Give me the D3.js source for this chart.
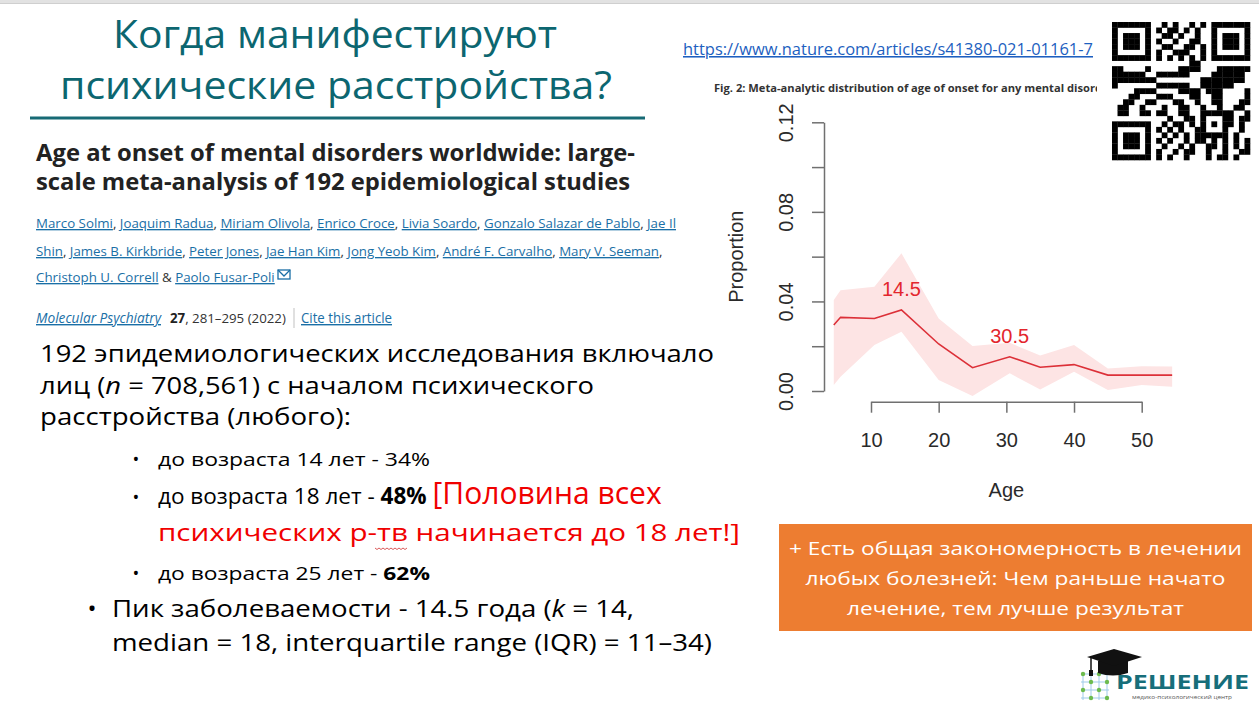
<!DOCTYPE html>
<html>
<head>
<meta charset="utf-8">
<script src="https://cdn.jsdelivr.net/npm/d3@7"></script>
<style>
  html, body { margin: 0; padding: 0; background: #fff; }
  svg { display: block; }
</style>
</head>
<body>
<svg id="slide" width="1259" height="709"></svg>
<script>
// age-of-onset curve
const ages = [4.5, 5.5, 10.5, 14.5, 20, 25, 30.5, 35, 40, 45, 50, 54.5];
const proportion = [0.0295, 0.0329, 0.0324, 0.0362, 0.0210, 0.0104, 0.0153, 0.0106, 0.0118, 0.0071, 0.0071, 0.0071];
const upper = [0.0406, 0.0450, 0.0466, 0.0615, 0.0324, 0.0201, 0.0215, 0.0158, 0.0205, 0.0101, 0.0110, 0.0109];
const lower = [0.0027, 0.0064, 0.0205, 0.0265, 0.0049, -0.0022, 0.0079, 0.0007, 0.0086, 0.0004, 0.0027, 0.0019];
const peakAges = [14.5, 30.5];
const peakValues = [0.0362, 0.0153];
const xTicks = [10, 20, 30, 40, 50];
const yTicks = [0, 0.02, 0.04, 0.06, 0.08, 0.10, 0.12];
const yLabelled = [0, 0.04, 0.08, 0.12];

const svg = d3.select("#slide");
const FONT = "Open Sans";

// small helper: text made of styled parts, fitted to a width
// textLength stretch by default, mixed runs with o.scale get their font size scaled instead
function txt(x, y, parts, o) {
    const t = svg.append("text")
        .attr("x", x).attr("y", y)
        .attr("font-family", o.font || FONT)
        .attr("font-size", o.size)
        .attr("fill", o.fill || "#000");
    if (o.anchor) t.attr("text-anchor", o.anchor);
    if (o.weight) t.attr("font-weight", o.weight);
    const spans = [];
    parts.forEach((p) => {
        if (typeof p === "string") p = { t: p };
        const s = t.append("tspan").text(p.t);
        if (p.fill) s.attr("fill", p.fill);
        if (p.weight) s.attr("font-weight", p.weight);
        if (p.italic) s.attr("font-style", "italic");
        if (p.size) s.attr("font-size", p.size);
        if (p.u) s.style("text-decoration", "underline");
        spans.push([s, p.size]);
    });
    if (o.width) {
        if (!o.scale) {
            t.attr("textLength", o.width).attr("lengthAdjust", "spacingAndGlyphs");
        } else {
            const k = o.width / t.node().getComputedTextLength();
            t.attr("font-size", o.size * k);
            spans.forEach(([s, sz]) => { if (sz) s.attr("font-size", sz * k); });
        }
    }
    return t;
}

svg.append("rect").attr("width", 1259).attr("height", 709).attr("fill", "#fff");
svg.append("rect").attr("width", 1259).attr("height", 3).attr("fill", "#e2e2e2");
svg.append("line").attr("x1", 0).attr("x2", 1259).attr("y1", 3.5).attr("y2", 3.5)
    .attr("stroke", "#cfcfcf").attr("stroke-width", 1);

// slide title
const teal = "#0c6670";
txt(335, 48, ["Когда манифестируют"], { size: 39, fill: teal, anchor: "middle", width: 444 });
txt(336, 99, ["психические расстройства?"], { size: 39, fill: teal, anchor: "middle", width: 552 });
svg.append("line").attr("x1", 30).attr("x2", 645).attr("y1", 118).attr("y2", 118)
    .attr("stroke", "#176a75").attr("stroke-width", 3);

// article header
txt(36, 161, ["Age at onset of mental disorders worldwide: large-"], { size: 23, weight: 700, fill: "#222", width: 599 });
txt(36, 190, ["scale meta-analysis of 192 epidemiological studies"], { size: 23, weight: 700, fill: "#222", width: 594 });

const link = "#1a6fa6";
function authors(names, sep) {
    const parts = [];
    names.forEach((n, i) => {
        if (n) parts.push({ t: n, fill: link, u: true });
        if (i < names.length - 1) parts.push({ t: sep[i] || ", ", fill: "#333" });
    });
    return parts;
}
txt(36, 228, authors(["Marco Solmi", "Joaquim Radua", "Miriam Olivola", "Enrico Croce", "Livia Soardo", "Gonzalo Salazar de Pablo", "Jae Il"], []),
    { size: 14, width: 641, scale: true });
txt(36, 256, authors(["Shin", "James B. Kirkbride", "Peter Jones", "Jae Han Kim", "Jong Yeob Kim", "André F. Carvalho", "Mary V. Seeman", ""], []),
    { size: 14, width: 627, scale: true });
txt(36, 282, authors(["Christoph U. Correll", "Paolo Fusar-Poli"], [" & "]), { size: 14, width: 239, scale: true });
// envelope icon
svg.append("rect").attr("x", 278).attr("y", 270).attr("width", 12).attr("height", 9)
    .attr("fill", "none").attr("stroke", link).attr("stroke-width", 1.3);
svg.append("path").attr("d", "M278,270 L284,276 L290,270").attr("fill", "none")
    .attr("stroke", link).attr("stroke-width", 1.3);

txt(36, 323, [{ t: "Molecular Psychiatry", fill: link, italic: true, u: true }], { size: 14, width: 125 });
txt(170, 323, [{ t: "27", weight: 700, fill: "#222" }, { t: ", 281–295 (2022)", fill: "#333" }], { size: 14, width: 116, scale: true });
svg.append("line").attr("x1", 294).attr("x2", 294).attr("y1", 308).attr("y2", 328)
    .attr("stroke", "#ccc").attr("stroke-width", 1.2);
txt(301, 323, [{ t: "Cite this article", fill: link, u: true }], { size: 14, width: 91 });

// body text
txt(40, 362, ["192 эпидемиологических исследования включало"], { size: 23, width: 674 });
txt(40, 394, ["лиц (", { t: "n", italic: true }, " = 708,561) с началом психического"], { size: 23, width: 554 });
txt(40, 425, ["расстройства (любого):"], { size: 23, width: 311 });

const red = "#f00000";
txt(136, 466, ["•"], { size: 18, anchor: "middle" });
txt(158, 466, ["до возраста 14 лет - 34%"], { size: 18, width: 272 });
txt(136, 504, ["•"], { size: 18, anchor: "middle" });
txt(158, 504, ["до возраста 18 лет - ", { t: "48%", weight: 700 }, " ", { t: "[Половина всех", fill: red, size: 24 }],
    { size: 18, width: 504, scale: true });
txt(158, 541, [{ t: "психических р-тв начинается до 18 лет!]", fill: red }], { size: 24, width: 582 });
// spell-check squiggle under "р-тв"
svg.append("path")
    .attr("d", d3.range(0, 17).map((i) => (i ? "L" : "M") + (375 + i * 2) + "," + (548 + (i % 2 ? 1.5 : 0))).join(""))
    .attr("fill", "none").attr("stroke", "#d03030").attr("stroke-width", 0.8);
txt(136, 580, ["•"], { size: 18, anchor: "middle" });
txt(158, 580, ["до возраста 25 лет - ", { t: "62%", weight: 700 }], { size: 18, width: 272 });

txt(92, 617, ["•"], { size: 24, anchor: "middle" });
txt(112, 617, ["Пик заболеваемости - 14.5 года (", { t: "k", italic: true }, " = 14,"], { size: 23, width: 522 });
txt(112, 651, ["median = 18, interquartile range (IQR) = 11–34)"], { size: 23, width: 600 });

// link + figure caption
txt(683, 55, [{ t: "https://www.nature.com/articles/s41380-021-01161-7", u: true }], { size: 15.5, fill: "#1d5fc0", width: 410 });
svg.append("clipPath").attr("id", "capclip").append("rect")
    .attr("x", 700).attr("y", 70).attr("width", 397).attr("height", 30);
txt(714, 92, ["Fig. 2: Meta-analytic distribution of age of onset for any mental disord"], { size: 11, weight: 700, fill: "#333", width: 388 })
    .attr("clip-path", "url(#capclip)");

// chart
const x = d3.scaleLinear().domain([10, 50]).range([871, 1141.7]);
const y = d3.scaleLinear().domain([0, 0.12]).range([391, 122.3]);
const pts = ages.map((a, i) => ({ a, p: proportion[i], hi: upper[i], lo: lower[i] }));

svg.append("path").datum(pts)
    .attr("fill", "#fde4e4")
    .attr("d", d3.area().x((d) => x(d.a)).y0((d) => y(d.lo)).y1((d) => y(d.hi)));
svg.append("path").datum(pts)
    .attr("fill", "none").attr("stroke", "#dc3038").attr("stroke-width", 1.6)
    .attr("d", d3.line().x((d) => x(d.a)).y((d) => y(d.p)));

svg.selectAll("text.peak").data(peakAges).join("text")
    .attr("class", "peak")
    .attr("x", (d) => x(d))
    .attr("y", (d, i) => y(peakValues[i]) - 14)
    .attr("text-anchor", "middle")
    .attr("font-family", "Liberation Sans").attr("font-size", 20)
    .attr("fill", "#e3262d")
    .text((d) => d.toFixed(1));

const axisCol = "#707070";
const xAxis = svg.append("g").attr("transform", "translate(0,401.7)")
    .call(d3.axisBottom(x).tickValues(xTicks).tickSize(11).tickSizeOuter(0).tickPadding(20));
const yAxis = svg.append("g").attr("transform", "translate(824,0)")
    .call(d3.axisLeft(y).tickValues(yTicks).tickSize(12).tickSizeOuter(0)
        .tickFormat((d) => (yLabelled.some((v) => Math.abs(v - d) < 1e-9) ? d3.format(".2f")(d) : "")));
[xAxis, yAxis].forEach((a) => {
    a.select(".domain").attr("stroke", axisCol).attr("stroke-width", 1.5);
    a.selectAll(".tick line").attr("stroke", axisCol).attr("stroke-width", 1.5);
    a.selectAll("text").attr("font-family", "Liberation Sans").attr("font-size", 20).attr("fill", "#2a2a2a");
});
yAxis.selectAll(".tick text")
    .attr("transform", "rotate(-90)")
    .attr("x", 0).attr("y", -31).attr("dy", 0)
    .attr("text-anchor", "middle");

svg.append("text").attr("x", x(30)).attr("y", 497)
    .attr("text-anchor", "middle").attr("font-family", "Liberation Sans").attr("font-size", 20)
    .attr("fill", "#2a2a2a").text("Age");
svg.append("text").attr("transform", `translate(743,${y(0.06)}) rotate(-90)`)
    .attr("text-anchor", "middle").attr("font-family", "Liberation Sans").attr("font-size", 20)
    .attr("fill", "#2a2a2a").text("Proportion");

// QR code (decorative)
const qrN = 25, qrX = 1112, qrY = 22, qrS = 138 / qrN;
const qr = svg.append("g");
function finder(r0, c0) {
    return (r, c) => {
        const dr = r - r0, dc = c - c0;
        if (dr < -1 || dr > 7 || dc < -1 || dc > 7) return null;
        if (dr < 0 || dr > 6 || dc < 0 || dc > 6) return 0;
        const m = Math.max(Math.abs(dr - 3), Math.abs(dc - 3));
        return m === 2 ? 0 : 1;
    };
}
const finders = [finder(0, 0), finder(0, 18), finder(18, 0)];
const cells = [];
for (let r = 0; r < qrN; r++) {
    for (let c = 0; c < qrN; c++) {
        let v = null;
        for (const f of finders) { const fv = f(r, c); if (fv !== null) { v = fv; break; } }
        if (v === null && (r === 6 || c === 6)) v = (r + c) % 2 === 0 ? 1 : 0;
        if (v === null && r >= 16 && r <= 20 && c >= 16 && c <= 20) {
            const m = Math.max(Math.abs(r - 18), Math.abs(c - 18));
            v = m === 1 ? 0 : 1;
        }
        if (v === null) v = ((r * 7 + c * 13 + r * c * 5 + (r ^ c) * 3) % 11) < 5 ? 1 : 0;
        if (v) cells.push([r, c]);
    }
}
qr.selectAll("rect").data(cells).join("rect")
    .attr("x", (d) => qrX + d[1] * qrS).attr("y", (d) => qrY + d[0] * qrS)
    .attr("width", qrS + 0.3).attr("height", qrS + 0.3).attr("fill", "#000");

// orange note box
svg.append("rect").attr("x", 779).attr("y", 524).attr("width", 473).attr("height", 107).attr("fill", "#ed7d31");
txt(1015.5, 555, ["+ Есть общая закономерность в лечении"], { size: 19, fill: "#fff", anchor: "middle", width: 453 });
txt(1015.5, 585, ["любых болезней: Чем раньше начато"], { size: 19, fill: "#fff", anchor: "middle", width: 420 });
txt(1015.5, 615, ["лечение, тем лучше результат"], { size: 19, fill: "#fff", anchor: "middle", width: 337 });

// logo
const logo = svg.append("g");
const gx = [1083, 1091, 1099, 1107], gy = [674, 682, 690, 698];
gx.forEach((a) => logo.append("line").attr("x1", a).attr("x2", a).attr("y1", 672).attr("y2", 700)
    .attr("stroke", "#9fcbe8").attr("stroke-width", 1));
gy.forEach((b) => logo.append("line").attr("x1", 1081).attr("x2", 1109).attr("y1", b).attr("y2", b)
    .attr("stroke", "#9fcbe8").attr("stroke-width", 1));
gx.forEach((a, i) => gy.forEach((b, j) => {
    if ((i + j) % 2 === 0) logo.append("circle").attr("cx", a).attr("cy", b).attr("r", 2.2).attr("fill", "#6dbb4e");
}));
logo.append("path").attr("d", "M1098,661 L1098,673 Q1113,678 1128,673 L1128,661 Z").attr("fill", "#111");
logo.append("path").attr("d", "M1087,657 L1114,649 L1142,657 L1114,666 Z").attr("fill", "#111");
logo.append("line").attr("x1", 1091).attr("x2", 1091).attr("y1", 658).attr("y2", 672)
    .attr("stroke", "#111").attr("stroke-width", 1.5);
logo.append("rect").attr("x", 1089).attr("y", 670).attr("width", 4).attr("height", 6).attr("fill", "#111");
txt(1116, 689, ["РЕШЕНИЕ"], { size: 19, weight: 700, fill: "#176e7a", width: 133 });
txt(1182, 699, ["медико-психологический центр"], { size: 5.5, fill: "#555", anchor: "middle", width: 100 });
</script>
</body>
</html>
